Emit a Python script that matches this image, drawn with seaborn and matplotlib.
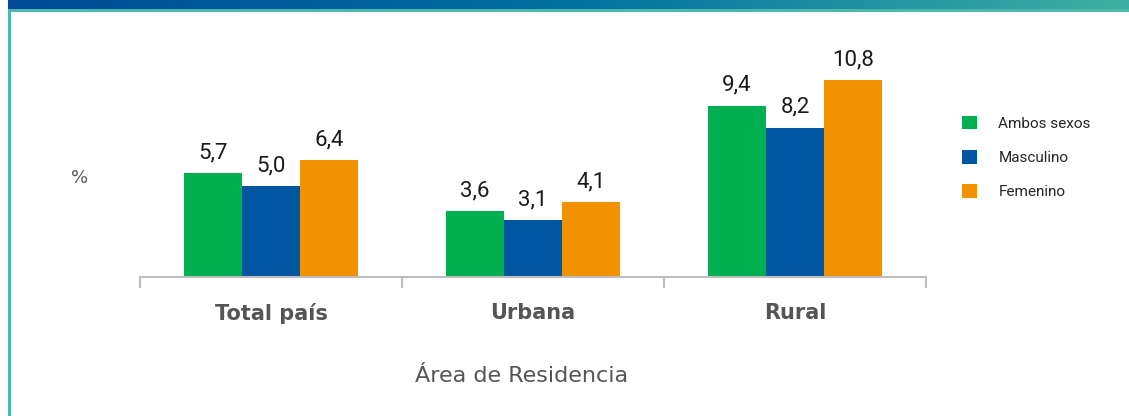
import numpy as np
import pandas as pd
import matplotlib
matplotlib.use("Agg")
import matplotlib.pyplot as plt
from matplotlib.colors import LinearSegmentedColormap
from matplotlib.patches import Patch, Rectangle
import seaborn as sns

# ------------------------------------------------------------------
# Data
# ------------------------------------------------------------------
areas = ["Total país", "Urbana", "Rural"]
series = ["Ambos sexos", "Masculino", "Femenino"]
ambos = [5.7, 3.6, 9.4]
masculino = [5.0, 3.1, 8.2]
femenino = [6.4, 4.1, 10.8]
colors = ["#00AF4F", "#0056A3", "#F39200"]

df = pd.DataFrame({
    "area": areas * 3,
    "sexo": np.repeat(series, 3),
    "valor": ambos + masculino + femenino,
})

W, H, DPI = 1129, 416, 100
NARROW = ["Roboto", "DejaVu Sans"]

sns.set_style("white")
fig = plt.figure(figsize=(W / DPI, H / DPI), dpi=DPI)
fig.patch.set_facecolor("white")

# header gradient band
band = fig.add_axes([8 / W, 1 - 9 / H, 1 - 8 / W, 9 / H])
cmap = LinearSegmentedColormap.from_list("hdr", ["#004A97", "#0070A2", "#3DB0A4"])
band.imshow(np.linspace(0, 1, 256)[None, :], aspect="auto", cmap=cmap)
band.set_axis_off()
fig.patches.append(Rectangle((8 / W, 1 - 12 / H), 1, 3 / H, transform=fig.transFigure,
                             color="#4DB8AC", lw=0))
fig.patches.append(Rectangle((8 / W, 0), 2.5 / W, 1 - 9 / H, transform=fig.transFigure,
                             color="#4DB8AC", lw=0))

# main axes: x from 140 to 926 px, baseline at y=277 px
ax = fig.add_axes([140 / W, (H - 277) / H, (926 - 140) / W, (277 - 40) / H])
sns.barplot(data=df, x="area", y="valor", hue="sexo", palette=colors,
            width=0.664, ax=ax, legend=False, saturation=1, linewidth=0,
            edgecolor="none")
ax.set_xlim(-0.5, 2.5)
ax.set_ylim(0, 13.0)

for cont in ax.containers:
    ax.bar_label(cont, labels=[f"{v:.1f}".replace(".", ",") for v in cont.datavalues],
                 padding=7, fontsize=16, family=NARROW, color="#1a1a1a")

for s in ["top", "right", "left"]:
    ax.spines[s].set_visible(False)
ax.spines["bottom"].set_color("#BDBDBD")
ax.spines["bottom"].set_linewidth(1.5)
ax.set_yticks([])
ax.set_xticks([0, 1, 2])
ax.set_xticklabels(areas, fontsize=15, fontweight="bold", color="#555555")
ax.tick_params(axis="x", which="major", length=0, pad=19)
ax.set_xticks([-0.5, 0.5, 1.5, 2.5], minor=True)
ax.tick_params(axis="x", which="minor", bottom=True, length=8, width=1.5,
               color="#BDBDBD", direction="out")
ax.set_xlabel("")
ax.set_ylabel("")

fig.text(80 / W, 1 - 178 / H, "%", fontsize=13, color="#555555", ha="center", va="center")
fig.text(522 / W, 1 - 376 / H, "Área de Residencia", fontsize=16, color="#555555",
         ha="center", va="center")

handles = [Patch(facecolor=c, edgecolor="none") for c in colors]
fig.legend(handles, series, loc="upper left", bbox_to_anchor=(948 / W, 1 - 102 / H),
           frameon=False, handlelength=1.0, handleheight=1.0, labelspacing=1.25,
           handletextpad=1.4, prop={"family": NARROW, "size": 11})

fig.savefig("out.png", dpi=DPI, facecolor="white")
